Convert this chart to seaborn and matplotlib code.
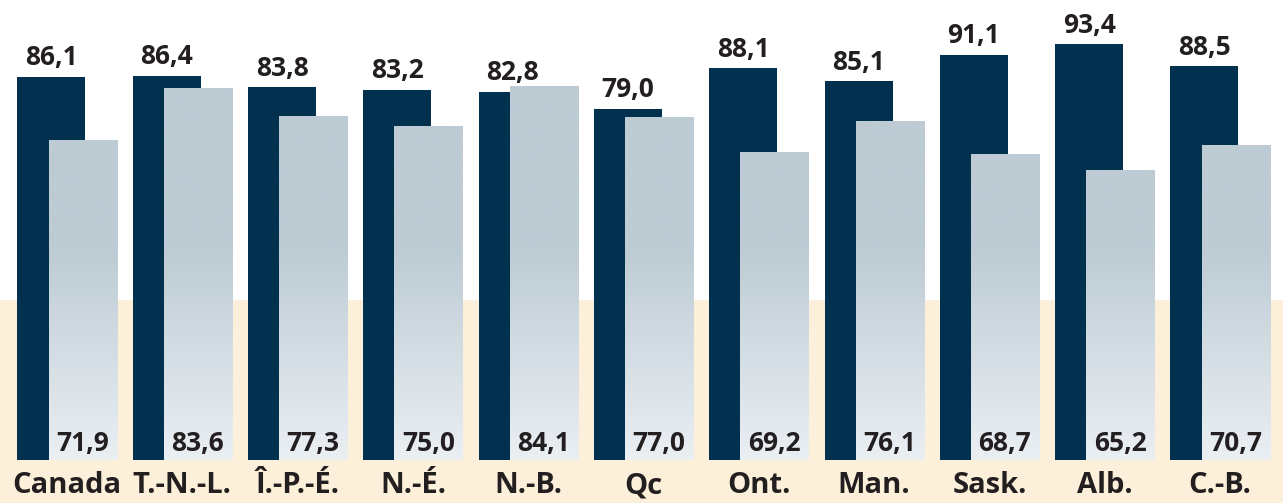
import numpy as np
import pandas as pd
import matplotlib
matplotlib.use("Agg")
import matplotlib.pyplot as plt
from matplotlib.colors import LinearSegmentedColormap
import seaborn as sns

# data
provinces = ["Canada", "T.-N.-L.", "Î.-P.-É.", "N.-É.", "N.-B.", "Qc",
             "Ont.", "Man.", "Sask.", "Alb.", "C.-B."]
dark_vals = [86.1, 86.4, 83.8, 83.2, 82.8, 79.0, 88.1, 85.1, 91.1, 93.4, 88.5]
light_vals = [71.9, 83.6, 77.3, 75.0, 84.1, 77.0, 69.2, 76.1, 68.7, 65.2, 70.7]

sns.set_style("white")
plt.rcParams['font.family'] = ['Open Sans', 'DejaVu Sans']

navy = "#02314f"
cream = "#fdf0da"
txt = "#231f20"
shift = 0.135
bw = 0.59

idx = np.arange(len(provinces))
df = pd.DataFrame({"prov": provinces, "dark": dark_vals, "light": light_vals,
                   "xd": idx - shift, "xl": idx + shift})

fig = plt.figure(figsize=(12.83, 5.03), dpi=100)
fig.patch.set_facecolor(cream)
ax = fig.add_axes([0, 43 / 503, 1, 1 - 43 / 503])
ax.set_facecolor("none")

# white upper part of the background
ax.axhspan(36, 200, color="white", zorder=0, lw=0)

sns.barplot(data=df, x="xd", y="dark", native_scale=True, width=bw,
            color=navy, saturation=1, ax=ax, zorder=2, linewidth=0)
sns.barplot(data=df, x="xl", y="light", native_scale=True, width=bw,
            color="#bdcbd4", saturation=1, ax=ax, zorder=3, linewidth=0)

# vertical gradient for the light bars (flat above ~48, fading to the base)
cmap = LinearSegmentedColormap.from_list("fade", ["#eaeff3", "#bdcbd4"])
grad = np.clip(np.linspace(0, 103.4, 400) / 48.0, 0, 1).reshape(-1, 1)
for p in ax.containers[1]:
    im = ax.imshow(grad, cmap=cmap, vmin=0, vmax=1, origin="lower",
                   extent=[-0.581, 10.546, 0, 103.4], aspect="auto", zorder=3)
    im.set_clip_path(p)
ax.set_xlim(-0.581, 10.546)
ax.set_ylim(0, 103.4)

ax.bar_label(ax.containers[0], labels=[f"{v:.1f}".replace(".", ",") for v in dark_vals],
             padding=4, fontsize=19, fontweight="bold", color=txt)
for x, v in zip(df["xl"], light_vals):
    ax.text(x, 2.0, f"{v:.1f}".replace(".", ","), ha="center", va="baseline",
            fontsize=19, fontweight="bold", color=txt, zorder=5)

ax.set_xticks(idx)
ax.set_xticklabels(provinces, fontsize=21, fontweight="bold", color=txt)
ax.tick_params(axis="x", length=0, pad=8)
ax.set_yticks([])
ax.set_xlabel("")
ax.set_ylabel("")
sns.despine(ax=ax, left=True, bottom=True)

fig.savefig("out.png", dpi=100, facecolor=fig.get_facecolor())
